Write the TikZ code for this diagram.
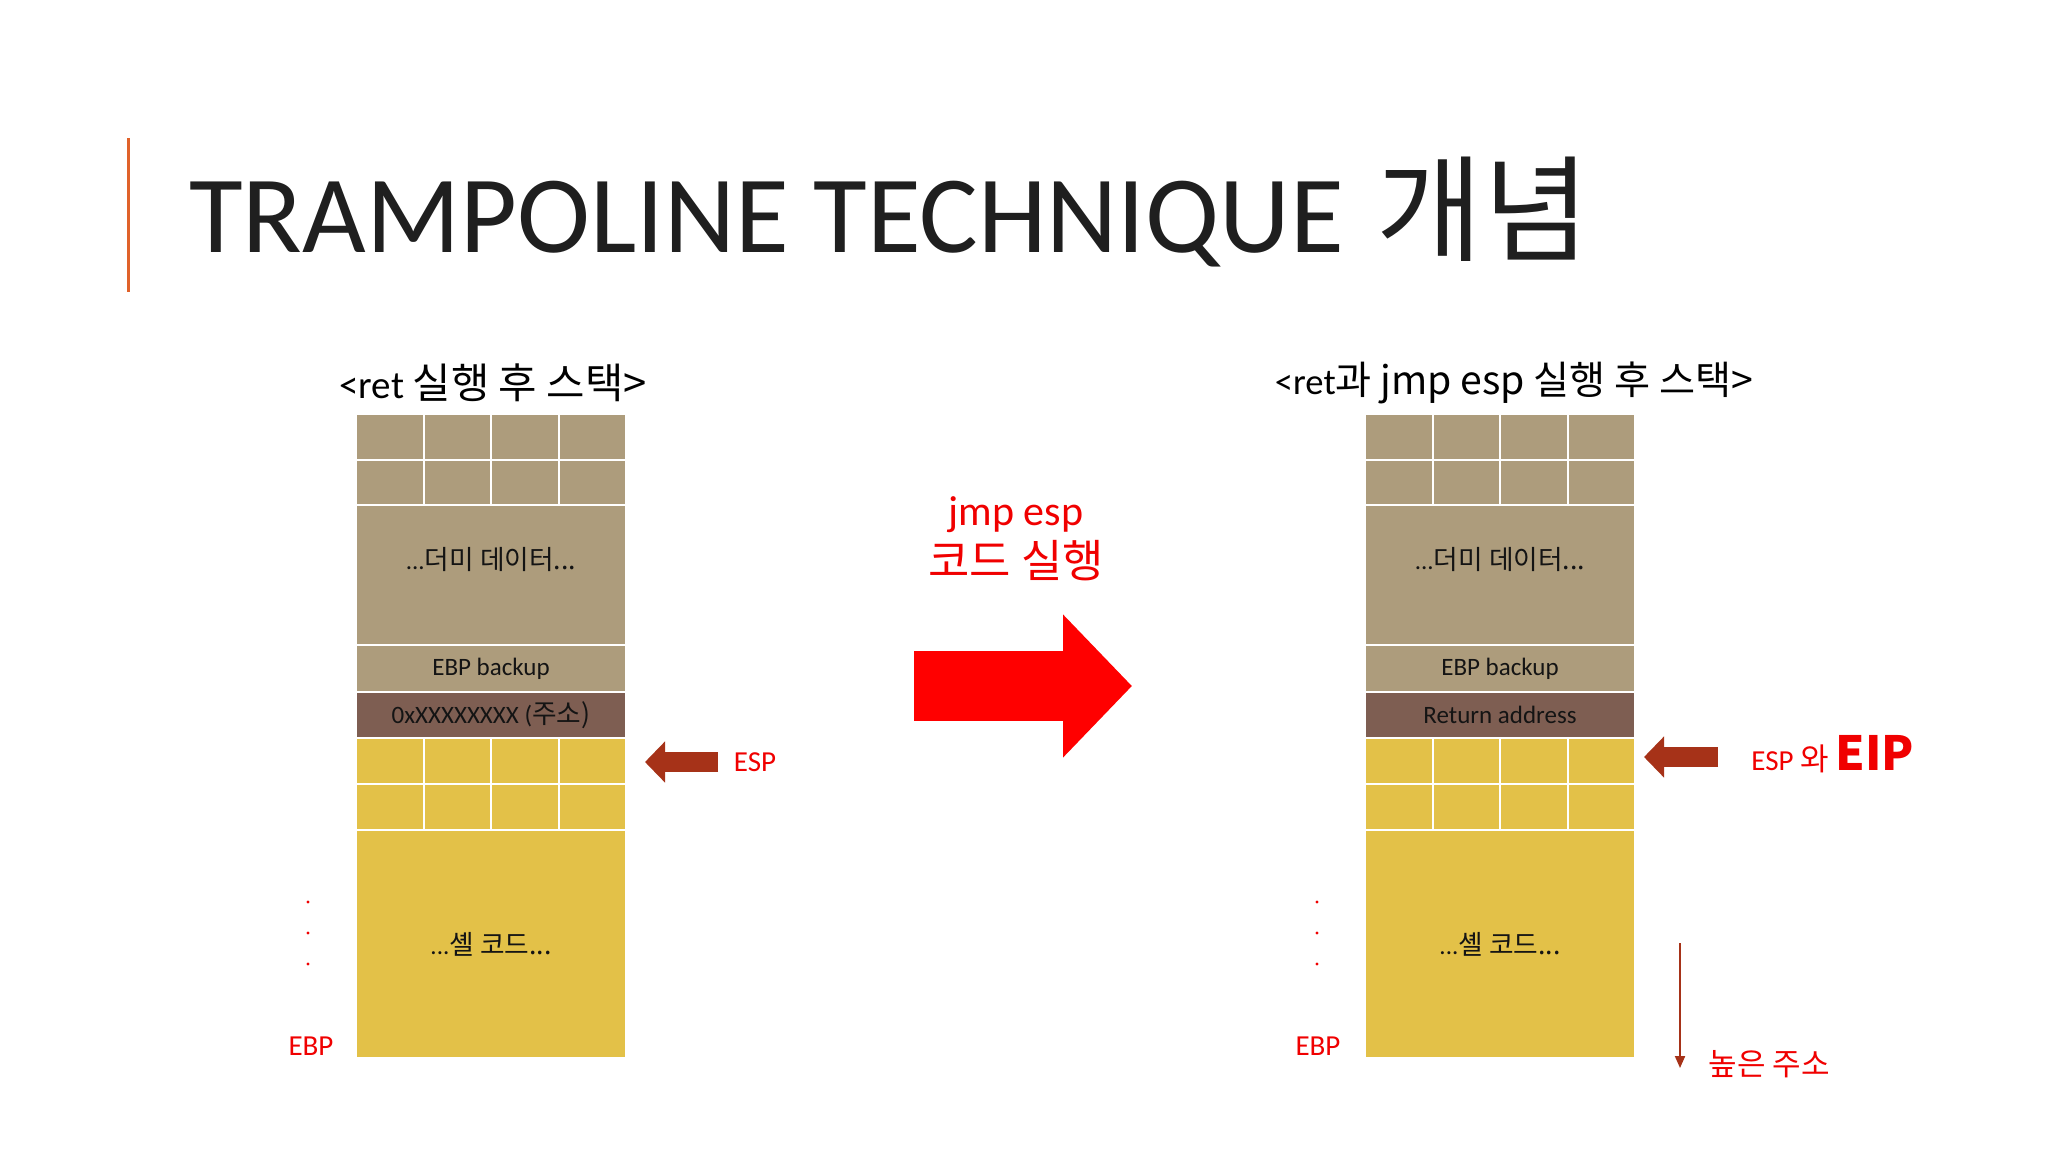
\documentclass[tikz,border=0pt]{standalone}
\usepackage{fontspec}
\setmainfont{Carlito}
\newfontfamily\kr[Scale=1.07]{Noto Sans CJK KR}
\newfontfamily\krtitle[Scale=1.05]{Noto Sans CJK KR}
\usetikzlibrary{arrows.meta, positioning}
\definecolor{stacktan}{RGB}{173,156,124}
\definecolor{stackbrown}{RGB}{126,94,82}
\definecolor{stackyellow}{RGB}{227,193,72}
\definecolor{ptrred}{RGB}{166,50,24}
\definecolor{titlebar}{RGB}{224,98,42}
\definecolor{labelred}{RGB}{240,0,0}
\tikzset{
cell/.style={draw=white, line width=1pt, inner sep=0pt, minimum width=33.75pt}, % one word of the stack
block/.style={draw=white, line width=1pt, inner sep=0pt, minimum width=135pt}, % wide stack rows
celltext/.style={inner sep=0pt, text=black!92, font=\fontsize{12.5}{14}\selectfont},
subtitle/.style={font=\fontsize{19.5}{22}\selectfont},
redlabel/.style={text=labelred, font=\fontsize{14.5}{16}\selectfont},
espptr/.style={ptrred, line width=10pt, -{Triangle[width=20pt, length=10pt]}},
}

\begin{document}
\begin{tikzpicture}[x=0.5pt, y=-0.5pt]
        \fill[white] (0,0) rectangle (2048,1152);
        \useasboundingbox (0,0) rectangle (2048,1152);

        % title
        \draw[titlebar, line width=1.5pt] (128,138) -- (128,292);
        \node[anchor=base west, inner sep=0pt, text=black!88, font=\fontsize{55}{60}\selectfont] (title) at (189,252) {TRAMPOLINE TECHNIQUE\hspace{0.3em}\krtitle{개념}};

        % both stacks: word cells
        \foreach \s/\x in {L/356, R/1365} {
          \foreach \i in {1,...,4} {
            \node[cell, fill=stacktan, minimum height=22.75pt] (\s-a\i) at ({\x+67.5*\i-33.75}, 436.75) {};
            \node[cell, fill=stacktan, minimum height=22.75pt] (\s-b\i) at ({\x+67.5*\i-33.75}, 482.25) {};
            \node[cell, fill=stackyellow, minimum height=23pt] (\s-c\i) at ({\x+67.5*\i-33.75}, 761) {};
            \node[cell, fill=stackyellow, minimum height=23pt] (\s-d\i) at ({\x+67.5*\i-33.75}, 807) {};
          }
        }

        % left stack
        \node[subtitle] (L-head) at (493,383) {<ret \kr{실행 후 스택}>};
        \node[block, fill=stacktan, minimum height=70pt] (L-dummy) at (491,575) {};
        \node[celltext] (L-dummy-t) at (491,559) {...\kr{더미 데이터}...};
        \node[block, fill=stacktan, minimum height=23.5pt, celltext] (L-ebp) at (491,668.5) {EBP backup};
        \node[block, fill=stackbrown, minimum height=23pt, celltext] (L-ret) at (491,715) {0xXXXXXXXX (\kr{주소})};
        \node[block, fill=stackyellow, minimum height=114pt, celltext] (L-shell) at (491,944) {...\kr{셸 코드}...};

        \node[redlabel] (L-esp) at (755,762) {ESP};
        \coordinate (L-esp-from) at (718,762);
        \coordinate (L-esp-to) at (645,762);
        \draw[espptr] (L-esp-from) -- (L-esp-to);
        \node[redlabel] (L-ebplabel) at (311,1046) {EBP};
        \fill[labelred] (308,902) circle (1.6) (308,933) circle (1.6) (308,964) circle (1.6);

        % jmp esp
        \node[text=labelred, font=\fontsize{21}{24}\selectfont] (jmp) at (1016,515) {jmp esp};
        \node[text=labelred, font=\fontsize{21}{24}\selectfont] (run) at (1016,561) {\kr{코드 실행}};
        \coordinate (jmp-from) at (914,686);
        \coordinate (jmp-to) at (1132,686);
        \draw[red, line width=35pt, -{Triangle[width=69.5pt, length=34.5pt]}] (jmp-from) -- (jmp-to);

        % right stack
        \node[subtitle, font=\fontsize{18.3}{22}\selectfont] (R-head) at (1514,383) {<ret\kr{과} jmp esp \kr{실행 후 스택}>};
        \node[block, fill=stacktan, minimum height=70pt] (R-dummy) at (1500,575) {};
        \node[celltext] (R-dummy-t) at (1500,559) {...\kr{더미 데이터}...};
        \node[block, fill=stacktan, minimum height=23.5pt, celltext] (R-ebp) at (1500,668.5) {EBP backup};
        \node[block, fill=stackbrown, minimum height=23pt, celltext] (R-ret) at (1500,715) {Return address};
        \node[block, fill=stackyellow, minimum height=114pt, celltext] (R-shell) at (1500,944) {...\kr{셸 코드}...};

        \node[redlabel, anchor=base west, inner sep=0pt] (R-esp) at (1751,770) {ESP \kr{와} {\bfseries\fontsize{22}{26}\selectfont EIP}};
        \coordinate (R-esp-from) at (1718,757);
        \coordinate (R-esp-to) at (1644,757);
        \draw[espptr] (R-esp-from) -- (R-esp-to);
        \node[redlabel] (R-ebplabel) at (1318,1046) {EBP};
        \fill[labelred] (1317,902) circle (1.6) (1317,933) circle (1.6) (1317,964) circle (1.6);

        % toward higher addresses
        \coordinate (hi-from) at (1680,943);
        \coordinate (hi-to) at (1680,1068);
        \draw[ptrred, line width=1pt, -{Triangle[width=5pt, length=6pt]}] (hi-from) -- (hi-to);
        \node[text=labelred, font=\fontsize{14.5}{18}\selectfont] (hi-addr) at (1769,1064) {\kr{높은 주소}};
\end{tikzpicture}
\end{document}
